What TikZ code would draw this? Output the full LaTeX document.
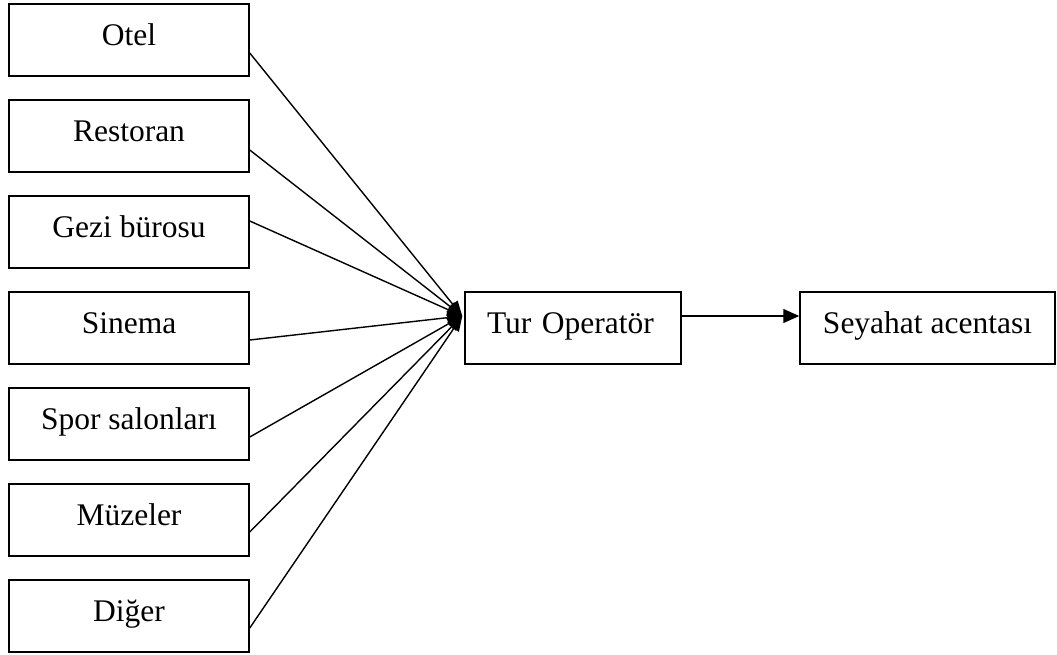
\documentclass[tikz,border=0pt]{standalone}
\usepackage{fontspec}
\setmainfont{Liberation Serif}
\usetikzlibrary{arrows.meta}
\begin{document}
\begin{tikzpicture}[x=1pt,y=-1pt,
  box/.style={draw,line width=1.5pt,rectangle,minimum height=72pt,inner sep=0pt,
    text height=21pt,text depth=10pt,font=\fontsize{31.5}{36}\selectfont},
  srcbox/.style={box,minimum width=240pt},
  feed/.style={line width=1.4pt,-{Triangle[length=15pt,width=12pt]}},
  flow/.style={line width=1.4pt,-{Triangle[length=16pt,width=14pt]}}]
\useasboundingbox (0,0) rectangle (1057,654);

% supplier boxes
\node[srcbox] (otel)   at (129,40)  {Otel};
\node[srcbox] (rest)   at (129,136) {Restoran};
\node[srcbox] (gezi)   at (129,232) {Gezi bürosu};
\node[srcbox] (sinema) at (129,328) {Sinema};
\node[srcbox] (spor)   at (129,424) {Spor salonları};
\node[srcbox] (muze)   at (129,520) {Müzeler};
\node[srcbox] (diger)  at (129,616) {Diğer};

% distribution chain
\node[box,minimum width=216pt,text width=200pt,align=left,inner xsep=0pt] (tur) at (573,328)
  {\hspace*{14pt}Tur Operatör};
\node[box,minimum width=255pt] (sey) at (927.5,328) {Seyahat acentası};

\coordinate (hub) at ([xshift=-2pt,yshift=12pt]tur.west);

\draw[feed] ([yshift=-13pt]otel.east)   -- (hub);
\draw[feed] ([yshift=-14pt]rest.east)   -- (hub);
\draw[feed] ([yshift=11pt]gezi.east)    -- (hub);
\draw[feed] ([yshift=-12pt]sinema.east) -- (hub);
\draw[feed] ([yshift=-13pt]spor.east)   -- (hub);
\draw[feed] ([yshift=-12pt]muze.east)   -- (hub);
\draw[feed] ([yshift=-12pt]diger.east)  -- (hub);

\draw[flow] ([yshift=12pt]tur.east) -- ([yshift=12pt]sey.west);
\end{tikzpicture}
\end{document}
